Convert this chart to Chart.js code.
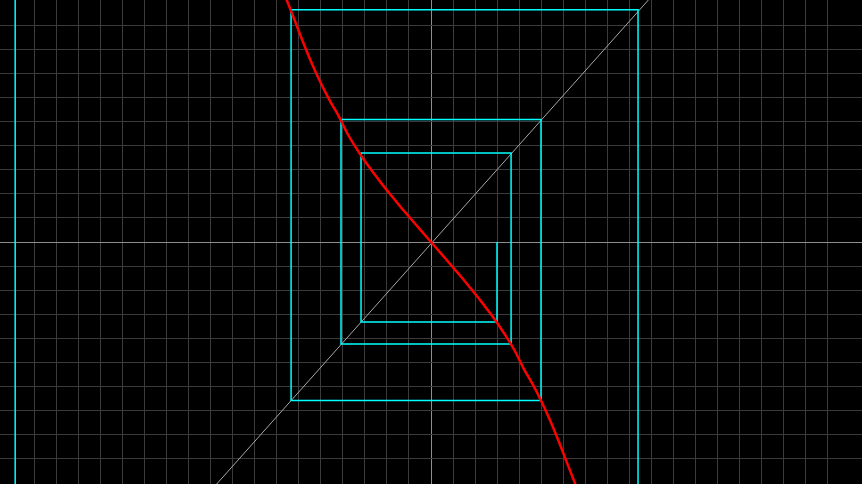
<!DOCTYPE html>
<html>
<head>
<meta charset="utf-8">
<script src="https://cdn.jsdelivr.net/npm/chart.js@4.4.1/dist/chart.umd.min.js"></script>
<style>
  html, body { margin: 0; padding: 0; background: #000; overflow: hidden; }
  #wrap { width: 862px; height: 484px; }
</style>
</head>
<body>
<div id="wrap"><canvas id="cobweb" width="862" height="484"></canvas></div>
<script>
// values in grid units (one grid cell = 1), origin at the crossing of the light axes
const curveX = [-6.70, -6.56, -6.20, -5.80, -5.40, -5.00, -4.60, -4.20, -3.80, -3.40, -3.00, -2.60, -2.20, -1.80, -1.40, -1.00, -0.50, 0,
                0.50, 1.00, 1.40, 1.80, 2.20, 2.60, 3.00, 3.40, 3.80, 4.20, 4.60, 5.00, 5.40, 5.80, 6.20, 6.56, 6.70];
const curveY = [10.35, 10.08, 9.24, 8.29, 7.40, 6.60, 5.89, 5.25, 4.52, 3.91, 3.36, 2.86, 2.38, 1.93, 1.48, 1.055, 0.525, 0,
                -0.525, -1.055, -1.48, -1.93, -2.38, -2.86, -3.36, -3.91, -4.52, -5.25, -5.89, -6.60, -7.40, -8.29, -9.24, -10.08, -10.35];

const diagX = [-9.74, 9.88];
const diagY = [-10.08, 10.08];

const webX = [3.00, 3.00, -3.18, -3.18, 3.64, 3.64, -4.09, -4.09, 5.00, 5.00, -6.36, -6.36, 9.41, 9.41, -18.90, -18.90];
const webY = [0, -3.33, -3.33, 3.71, 3.71, -4.25, -4.25, 5.10, 5.10, -6.60, -6.60, 9.67, 9.67, -19.50, -19.50, 40.0];

const xRange = [-19.59, 19.59];
const yRange = [-10.08, 10.08];

const pts = (xs, ys) => xs.map((x, i) => ({ x: x, y: ys[i] }));

function gridColor(ctx) {
    const v = ctx.tick.value;
    if (!Number.isInteger(v)) return 'rgba(0,0,0,0)';
    return v === 0 ? '#8e8e8e' : '#3b3b3b';
}

new Chart(document.getElementById('cobweb').getContext('2d'), {
    type: 'scatter',
    data: {
        datasets: [
            { data: pts(curveX, curveY), showLine: true, borderColor: '#ff0000', borderWidth: 2.5, pointRadius: 0, tension: 0.3, order: 0 },
            { data: pts(webX, webY), showLine: true, borderColor: '#00ffff', borderWidth: 1.5, pointRadius: 0, tension: 0, order: 1 },
            { data: pts(diagX, diagY), showLine: true, borderColor: '#a8a8a8', borderWidth: 1, pointRadius: 0, tension: 0, order: 2 }
        ]
    },
    options: {
        responsive: false,
        animation: false,
        layout: { padding: 0 },
        plugins: { legend: { display: false }, tooltip: { enabled: false } },
        scales: {
            x: {
                type: 'linear', min: xRange[0], max: xRange[1],
                ticks: { display: false, stepSize: 1 },
                grid: { color: gridColor, drawTicks: false, lineWidth: 1 },
                border: { display: false }
            },
            y: {
                type: 'linear', min: yRange[0], max: yRange[1],
                ticks: { display: false, stepSize: 1 },
                grid: { color: gridColor, drawTicks: false, lineWidth: 1 },
                border: { display: false }
            }
        }
    }
});
</script>
</body>
</html>
